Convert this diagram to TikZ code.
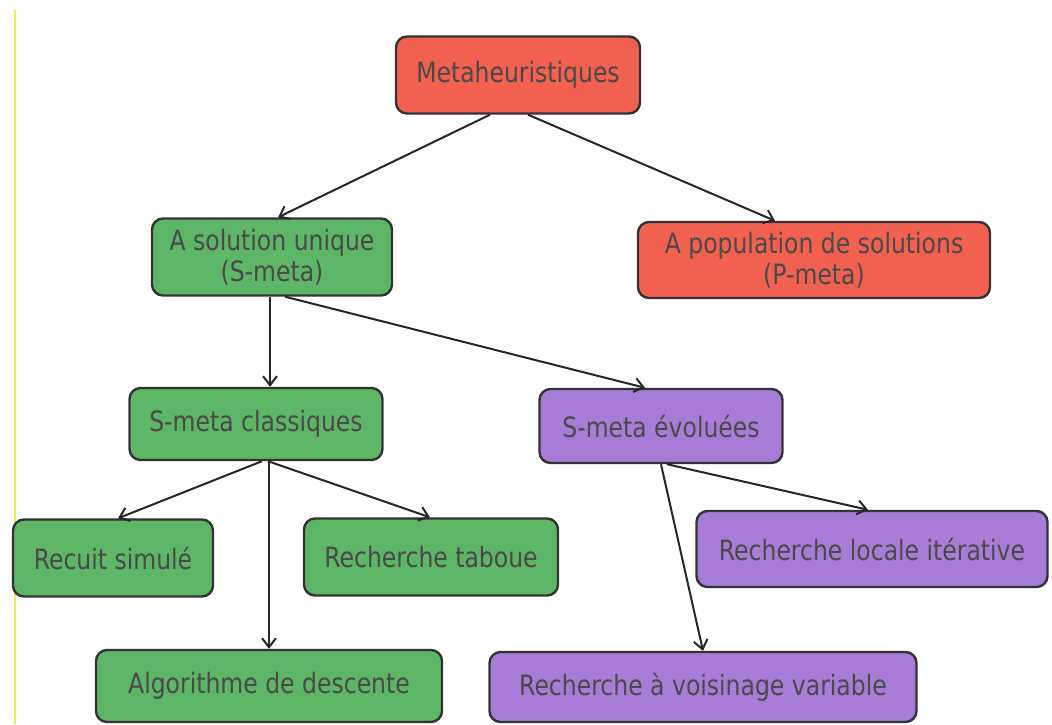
\documentclass[tikz,border=0pt]{standalone}
\usepackage{fontspec}
\setmainfont{DejaVu Sans}[FakeStretch=0.84]
\usetikzlibrary{arrows.meta}
\definecolor{boxred}{HTML}{F2604F}
\definecolor{boxgreen}{HTML}{5DB566}
\definecolor{boxpurple}{HTML}{A77CD6}
\definecolor{boxline}{HTML}{333333}
\definecolor{labeltext}{HTML}{4A4A4A}
\definecolor{marginline}{HTML}{F3EA5A}
\tikzset{
  box/.style={draw=boxline, line width=2.4pt, rounded corners=11pt,
    text=labeltext, align=center, inner sep=0pt,
    font=\fontsize{28}{31}\selectfont},
  redbox/.style={box, fill=boxred},
  greenbox/.style={box, fill=boxgreen},
  purplebox/.style={box, fill=boxpurple},
  link/.style={draw=black!85, line width=2pt,
    -{Straight Barb[length=9pt,width=14pt,line width=2pt]}}
}
\begin{document}
\begin{tikzpicture}[x=1pt,y=-1pt]
\useasboundingbox (0,0) rectangle (1052,724);
\fill[white] (0,0) rectangle (1052,724);
% left margin rule
\draw[marginline, line width=2.5pt] (15,10) -- (15,724);

% top level
\node[redbox, minimum width=244pt, minimum height=77pt] (meta) at (518,75) {Metaheuristiques};
% second level
\node[greenbox, minimum width=240pt, minimum height=77pt] (sol) at (272,257) {A solution unique\\(S-meta)};
\node[redbox, minimum width=352pt, minimum height=76pt] (pop) at (814,260) {A population de solutions\\(P-meta)};
% third level
\node[greenbox, minimum width=253pt, minimum height=72pt] (cla) at (256,424) {S-meta classiques};
\node[purplebox, minimum width=243pt, minimum height=74pt] (evo) at (661,426) {S-meta évoluées};
% leaves
\node[greenbox, minimum width=200pt, minimum height=77pt] (rec) at (113,558) {Recuit simulé};
\node[greenbox, minimum width=254pt, minimum height=77pt] (tab) at (431,557) {Recherche taboue};
\node[purplebox, minimum width=351pt, minimum height=76pt] (loc) at (872,549) {Recherche locale itérative};
\node[greenbox, minimum width=346pt, minimum height=72pt] (alg) at (269,686) {Algorithme de descente};
\node[purplebox, minimum width=427pt, minimum height=70pt] (voi) at (703,687) {Recherche à voisinage variable};

% connectors
\draw[link] ([xshift=-28pt]meta.south) -- ([xshift=6pt]sol.north);
\draw[link] ([xshift=10pt]meta.south) -- ([xshift=-39pt]pop.north);
\draw[link] ([xshift=-2pt]sol.south) -- ([xshift=14pt]cla.north);
\draw[link] ([xshift=13pt]sol.south) -- ([xshift=-16pt]evo.north);
\draw[link] ([xshift=6pt]cla.south) -- ([xshift=5pt]rec.north);
\draw[link] ([xshift=13pt]cla.south) -- (alg.north);
\draw[link] ([xshift=12pt]cla.south) -- ([xshift=-1pt]tab.north);
\draw[link] (evo.south) -- (voi.north);
\draw[link] ([xshift=6pt]evo.south) -- ([xshift=-4pt]loc.north);
\end{tikzpicture}
\end{document}
